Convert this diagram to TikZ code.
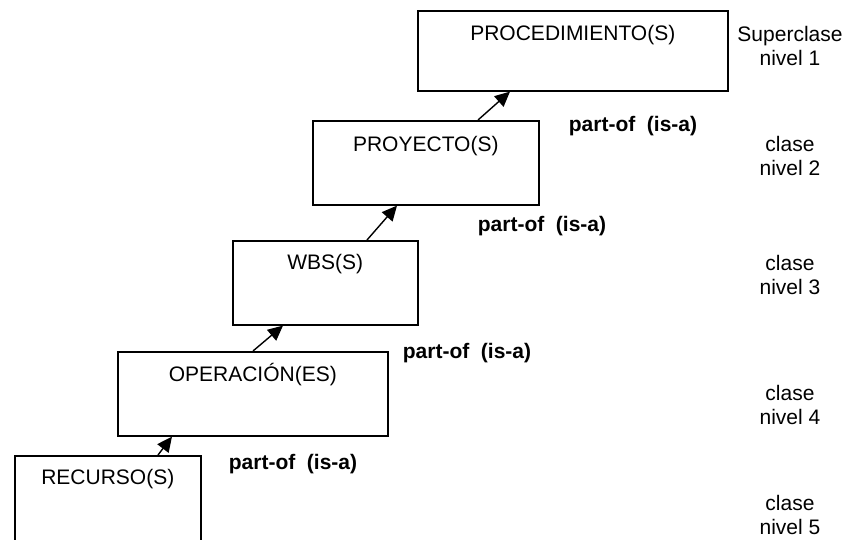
\documentclass[tikz,border=0pt]{standalone}
\usepackage{fontspec}
\setmainfont{Liberation Sans}
\usetikzlibrary{arrows.meta,calc}
\begin{document}
\begin{tikzpicture}[x=1pt,y=-1pt,
  every node/.style={font=\fontsize{21}{24}\selectfont},
  box/.style={draw,line width=1.6pt,minimum width=#1,anchor=north west,inner sep=0pt,
    text depth=0pt,align=center},
  title/.style={anchor=center},
  rel/.style={font=\fontsize{21}{24}\selectfont\bfseries},
  level/.style={align=center,font=\fontsize{21}{24}\selectfont},
  link/.style={line width=1.4pt,-{Triangle[length=15pt,width=14pt]}}]
\useasboundingbox (0,0) rectangle (857,540);
\begin{scope}
\clip (0,0) rectangle (857,540);
% class boxes, from the top level down
\node[box=310,minimum height=80] (proc) at (417,10) {};
\node[box=226,minimum height=84] (proy) at (312,120) {};
\node[box=185,minimum height=84] (wbs) at (232,240) {};
\node[box=270,minimum height=84] (oper) at (117,351) {};
\node[box=186,minimum height=110] (rec) at (14,455) {};
\end{scope}
% box titles
\node[title] (tproc) at ($(proc.north)+(0,25)$) {PROCEDIMIENTO(S)};
\node[title] (tproy) at ($(proy.north)+(0,26)$) {PROYECTO(S)};
\node[title] (twbs) at ($(wbs.north)+(0,24)$) {WBS(S)};
\node[title] (toper) at ($(oper.north)+(0,24)$) {OPERACIÓN(ES)};
\node[title] (trec) at ($(rec.north)+(0,24)$) {RECURSO(S)};
% part-of links
\coordinate (a1) at ($(rec.north west)+(144,0)$);
\coordinate (b1) at ($(oper.south west)+(55,0)$);
\coordinate (a2) at ($(oper.north west)+(136,0)$);
\coordinate (b2) at ($(wbs.south west)+(51,0)$);
\coordinate (a3) at ($(wbs.north west)+(135,0)$);
\coordinate (b3) at ($(proy.south west)+(85,0)$);
\coordinate (a4) at ($(proy.north west)+(166,0)$);
\coordinate (b4) at ($(proc.south west)+(93,0)$);
\draw[link] (a1) -- (b1);
\draw[link] (a2) -- (b2);
\draw[link] (a3) -- (b3);
\draw[link] (a4) -- (b4);
% relation labels
\node[rel] (r1) at (293,464) {part-of\ \ (is-a)};
\node[rel] (r2) at (467,353) {part-of\ \ (is-a)};
\node[rel] (r3) at (542,226) {part-of\ \ (is-a)};
\node[rel] (r4) at (633,126) {part-of\ \ (is-a)};
% level captions
\node[level] (l1) at (790,46) {Superclase\\nivel 1};
\node[level] (l2) at (790,156) {clase\\nivel 2};
\node[level] (l3) at (790,275) {clase\\nivel 3};
\node[level] (l4) at (790,405) {clase\\nivel 4};
\node[level] (l5) at (790,515) {clase\\nivel 5};
\end{tikzpicture}
\end{document}
